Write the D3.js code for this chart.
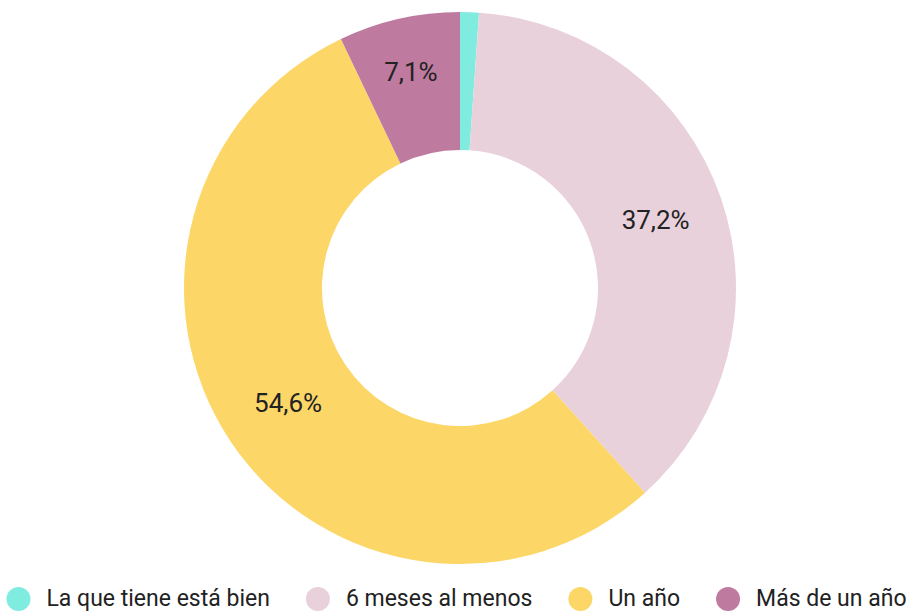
<!DOCTYPE html>
<html>
  <head>
    <meta charset="utf-8" />
    <style>
      body { margin: 0; background: #fff; }
      text { font-family: Roboto, "Noto Sans", sans-serif; }
    </style>
  </head>
  <body>

<svg id="chart"></svg>

<script src="https://d3js.org/d3.v7.min.js"></script>
<script>
const WIDTH = 913
const HEIGHT = 612

// the data
const CATEGORIES = ['La que tiene está bien', '6 meses al menos', 'Un año', 'Más de un año']
const VALUES = [1.1, 37.2, 54.6, 7.1]
const LABELS = ['', '37,2%', '54,6%', '7,1%']
const COLORS = ['#80ECE0', '#E9D1DC', '#FCD768', '#BF7AA0']

// donut geometry
const CX = 460
const CY = 288
const R_OUT = 276
const R_IN = 138

const svg = d3.select('#chart')
  .attr('width', WIDTH)
  .attr('height', HEIGHT)

const data = CATEGORIES.map((c, i) => ({ name: c, value: VALUES[i], label: LABELS[i] }))

const color = d3.scaleOrdinal()
  .domain(CATEGORIES)
  .range(COLORS)

const pie = d3.pie()
  .value(d => d.value)
  .sort(null)

const arc = d3.arc()
  .innerRadius(R_IN)
  .outerRadius(R_OUT)

// narrow slices get their label pushed a bit further out
const labelArc = d3.arc()
  .innerRadius(R_IN + 30)
  .outerRadius(R_OUT)

const donut = svg.append('g')
  .attr('transform', `translate(${CX}, ${CY})`)

const arcs = pie(data)

donut.selectAll('path')
  .data(arcs)
  .enter()
    .append('path')
    .attr('d', arc)
    .attr('fill', d => color(d.data.name))

donut.selectAll('text')
  .data(arcs)
  .enter()
    .append('text')
    .attr('transform', d => {
      const c = (d.data.value < 10 ? labelArc : arc).centroid(d)
      return `translate(${c})`
    })
    .attr('text-anchor', 'middle')
    .attr('dy', '0.35em')
    .attr('font-size', 26)
    .attr('fill', '#222')
    .text(d => d.data.label)

// legend, centred under the donut
const legend = svg.append('g')
const LEG_Y = 599
const DOT_R = 12
const DOT_GAP = 28
const ITEM_GAP = 48

const items = legend.selectAll('g')
  .data(CATEGORIES)
  .enter()
    .append('g')

items.append('circle')
  .attr('r', DOT_R)
  .attr('fill', d => color(d))

items.append('text')
  .attr('x', DOT_GAP)
  .attr('y', 7)
  .attr('font-size', 23)
  .attr('fill', '#222')
  .text(d => d)

let x = 0
items.each(function () {
  const w = this.querySelector('text').getComputedTextLength()
  d3.select(this).attr('transform', `translate(${x}, ${LEG_Y})`)
  x += DOT_GAP + w + ITEM_GAP
})
const total = x - ITEM_GAP + DOT_R
const start = (WIDTH - total) / 2 + DOT_R
legend.attr('transform', `translate(${start}, 0)`)
</script>
  </body>
</html>
